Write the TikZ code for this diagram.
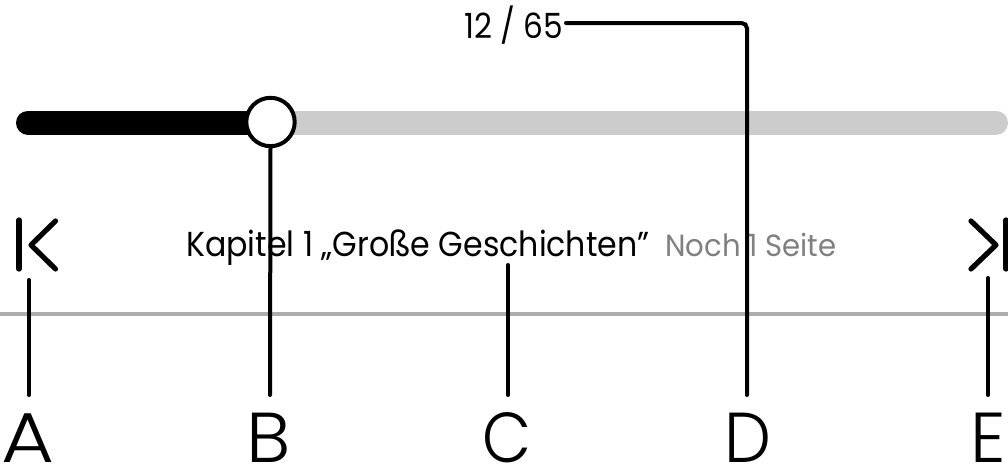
\documentclass[tikz,border=0pt]{standalone}
\usepackage{fontspec}
\setmainfont{Poppins}
\newfontfamily\lblfont{Poppins Light}
\definecolor{track}{gray}{0.8}
\definecolor{rule}{gray}{0.68}
\definecolor{muted}{gray}{0.5}
\newcommand{\narrowtext}[2]{\scalebox{#1}[1]{#2}}
\tikzset{x=0.75pt,y=-0.75pt,
 conn/.style={draw=black,line width=3pt,rounded corners=4pt,line cap=round},
 icon/.style={draw=black,line width=3.9pt,line cap=round,line join=round},
 letter/.style={font=\lblfont\fontsize{53}{53}\selectfont,anchor=base,inner sep=0pt,text=black},
 caption/.style={font=\fontsize{26}{26}\selectfont,anchor=base west,inner sep=0pt}}
\begin{document}
\begin{tikzpicture}
\useasboundingbox (0,0) rectangle (1008,468);
\fill[white] (0,0) rectangle (1008,468);
\draw[rule,line width=2.7pt] (0,314) -- (1008,314);
\draw[track,line width=18pt,line cap=round] (270,122.5) -- (996,122.5);
\draw[black,line width=18pt,line cap=round] (28,122.5) -- (270,122.5);
\node[letter] (A) at (28,462) {\narrowtext{1.15}{A}};
\node[letter] (B) at (269,462) {\narrowtext{1.05}{B}};
\node[letter] (C) at (507,462) {\narrowtext{0.9}{C}};
\node[letter] (D) at (747.5,462) {\narrowtext{0.94}{D}};
\node[letter] (E) at (988,462) {\narrowtext{1}{E}};
\node[caption] (count) at (464,38) {\narrowtext{0.9}{12 / 65}};
\node[caption] (chap) at (186,256) {\narrowtext{0.912}{Kapitel 1 „Große Geschichten”}};
\node[caption,text=muted,font=\fontsize{23}{23}\selectfont] (rest) at (665,256) {\narrowtext{0.95}{Noch 1 Seite}};
\node[circle,draw=black,fill=white,line width=3pt,minimum size=36.3pt,inner sep=0pt] (knob) at (270.5,122) {};
\coordinate (a1) at (29,280); \coordinate (a2) at (29,395);
\coordinate (b2) at (270,395);
\coordinate (c1) at (508,265); \coordinate (c2) at (508,395);
\coordinate (d2) at (747,395); \coordinate (d1) at (566,23); \coordinate (d3) at (747,23);
\coordinate (e1) at (988,278); \coordinate (e2) at (988,395);
\draw[conn] (a1) -- (a2);
\draw[conn] (knob.south) -- (b2);
\draw[conn] (c1) -- (c2);
\draw[conn] (d1) -- (d3) -- (d2);
\draw[conn] (e1) -- (e2);
\coordinate (p1) at (19,220); \coordinate (p2) at (19,269);
\coordinate (q1) at (55.5,221); \coordinate (q2) at (31,245); \coordinate (q3) at (55.5,269);
\draw[icon] (p1) -- (p2);
\draw[icon] (q1) -- (q2) -- (q3);
\coordinate (r1) at (1006,220); \coordinate (r2) at (1006,269);
\coordinate (s1) at (971,221); \coordinate (s2) at (996,245); \coordinate (s3) at (971,269);
\draw[icon] (r1) -- (r2);
\draw[icon] (s1) -- (s2) -- (s3);
\end{tikzpicture}
\end{document}
